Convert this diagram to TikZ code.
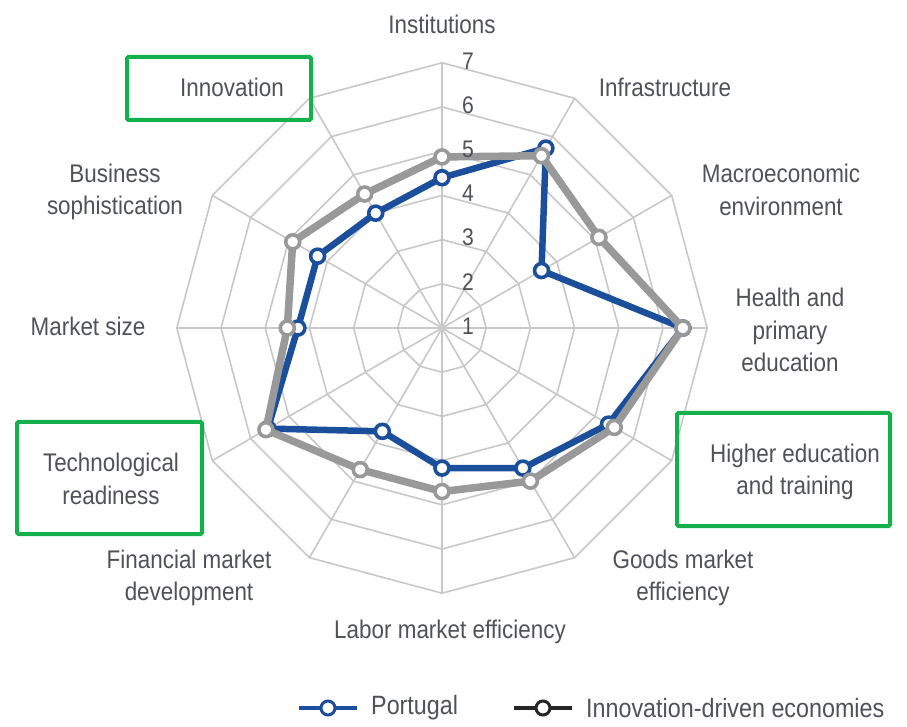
\documentclass[tikz,border=0pt]{standalone}
\usepackage{fontspec}
\setmainfont{Liberation Sans}[FakeStretch=0.88]
\definecolor{gridgray}{HTML}{C8C8C8}
\definecolor{txtgray}{HTML}{505259}
\definecolor{ptblue}{HTML}{1B4F9C}
\definecolor{idegray}{HTML}{999999}
\definecolor{boxgreen}{HTML}{14B04C}
\begin{document}
\begin{tikzpicture}[x=1pt,y=1pt,
  webline/.style={draw=gridgray, line width=1.6pt, line join=miter},
  lbl/.style={text=txtgray, font=\fontsize{25.5}{32.5}\selectfont, align=center, inner sep=0pt},
  numlbl/.style={text=txtgray, font=\fontsize{24}{28}\selectfont, inner sep=0pt},
  legtxt/.style={text=txtgray, font=\fontsize{26.5}{30}\selectfont, inner sep=0pt, anchor=west},
  ptline/.style={draw=ptblue, line width=6.5pt, line join=round},
  ideline/.style={draw=idegray, line width=7.5pt, line join=round},
  mk/.style={circle, fill=white, line width=3.6pt, minimum size=14pt, inner sep=0pt},
  gbox/.style={draw=boxgreen, line width=4pt, rounded corners=1.5pt, inner sep=0pt}
]
\useasboundingbox (0,0) rectangle (907,726);
\fill[white] (0,0) rectangle (907,726);

\begin{scope}[shift={(442,398)}]
  % web
  \foreach \k in {1,...,6}
    \draw[webline] (90:{\k*44.2}) \foreach \a in {60,30,...,-240} { -- (\a:{\k*44.2}) } -- cycle;
  \foreach \a in {0,30,...,330}
    \draw[webline] (0,0) -- (\a:265.2);

  % data coordinates
  \foreach \v [count=\i from 0] in {4.4,5.7,3.6,6.45,5.35,4.66,4.17,3.7,5.55,4.26,4.25,4.0}
    \coordinate (p\i) at ({90-30*\i}:{(\v-1)*44.2});
  \foreach \v [count=\i from 0] in {4.87,5.5,5.1,6.45,5.5,5.0,4.7,4.7,5.6,4.5,4.9,4.5}
    \coordinate (g\i) at ({90-30*\i}:{(\v-1)*44.2});

  % Portugal
  \draw[ptline] (p0) -- (p1) -- (p2) -- (p3) -- (p4) -- (p5) -- (p6) -- (p7) -- (p8) -- (p9) -- (p10) -- (p11) -- cycle;
  \foreach \i in {0,...,11}
    \node[mk, draw=ptblue] (pm\i) at (p\i) {};

  % Innovation-driven economies
  \draw[ideline] (g0) -- (g1) -- (g2) -- (g3) -- (g4) -- (g5) -- (g6) -- (g7) -- (g8) -- (g9) -- (g10) -- (g11) -- cycle;
  \foreach \i in {0,...,11}
    \node[mk, draw=idegray] (gm\i) at (g\i) {};

  % scale numbers
  \foreach \n in {1,...,7}
    \node[numlbl] (num\n) at (26,{(\n-1)*44.2+2}) {\n};
\end{scope}

% axis labels (image coords: y_tikz = 726 - y_img)
\node[lbl] (l0) at (442,702) {Institutions};
\node[lbl] (l1) at (665,639) {Infrastructure};
\node[lbl] (l2) at (781,536) {Macroeconomic\\environment};
\node[lbl] (l3) at (790,396) {Health and\\primary\\education};
\node[lbl] (l4) at (795,254) {Higher education\\and training};
\node[lbl] (l5) at (683,148) {Goods market\\efficiency};
\node[lbl] (l6) at (450,94) {Labor market efficiency};
\node[lbl] (l7) at (189,148) {Financial market\\development};
\node[lbl] (l8) at (111,247) {Technological\\readiness};
\node[lbl] (l9) at (88,400) {Market size};
\node[lbl] (l10) at (115,534) {Business\\sophistication};
\node[lbl] (l11) at (232,639) {Innovation};

% green highlight boxes
\node[gbox, minimum width=184pt, minimum height=63pt] (b11) at (219,637.5) {};
\node[gbox, minimum width=185pt, minimum height=112pt] (b8) at (109.5,248) {};
\node[gbox, minimum width=213pt, minimum height=113pt] (b4) at (783.5,256.5) {};

% legend
\coordinate (la) at (299,18);
\coordinate (lb) at (357,18);
\draw[draw=ptblue, line width=3.5pt] (la) -- (lb);
\node[mk, draw=ptblue, minimum size=14pt, line width=3pt] (legp) at (328,18) {};
\node[legtxt] (legpt) at (371,18) {Portugal};
\coordinate (lc) at (514,18);
\coordinate (ld) at (572,18);
\draw[draw=black!85, line width=3.5pt] (lc) -- (ld);
\node[mk, draw=black!85, minimum size=14pt, line width=3pt] (legi) at (543,18) {};
\node[legtxt] (legit) at (586,18) {Innovation-driven economies};
\end{tikzpicture}
\end{document}
